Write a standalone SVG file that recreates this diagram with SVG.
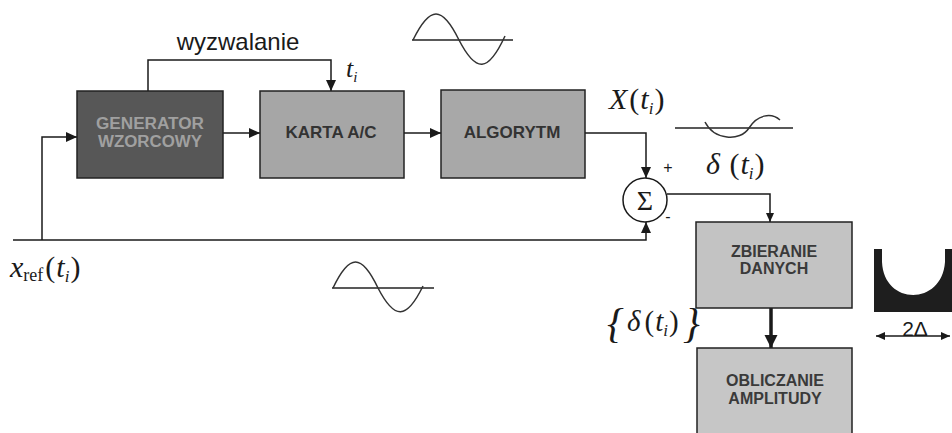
<svg xmlns="http://www.w3.org/2000/svg" width="952" height="433" viewBox="0 0 952 433">
<defs>
<marker id="ah" markerUnits="userSpaceOnUse" markerWidth="12" markerHeight="10" refX="11" refY="5" orient="auto"><path d="M0,0 L11,5 L0,10 z" fill="#1a1a1a"/></marker>
<marker id="ahs" markerUnits="userSpaceOnUse" markerWidth="10" markerHeight="10" refX="9" refY="4" orient="auto"><path d="M0,0 L9,4 L0,8 z" fill="#1a1a1a"/></marker>
<marker id="ahb" markerUnits="userSpaceOnUse" markerWidth="14" markerHeight="14" refX="13" refY="6.5" orient="auto"><path d="M0,0 L13,6.5 L0,13 z" fill="#1a1a1a"/></marker>
<marker id="ahs0" markerUnits="userSpaceOnUse" markerWidth="10" markerHeight="10" refX="0" refY="4" orient="auto"><path d="M9,0 L0,4 L9,8 z" fill="#1a1a1a"/></marker>
</defs>
<style>
.box{stroke:#222;stroke-width:1.5}
.lbl{font-family:"Liberation Sans",Arial,sans-serif;font-size:16px;font-weight:bold;text-anchor:middle;fill:#3a3a3a}
.math{font-family:"Liberation Serif","Times New Roman",serif;font-style:italic;fill:#1a1a1a}
.conn{fill:none;stroke:#1a1a1a;stroke-width:1.5}
.wave{fill:none;stroke:#333;stroke-width:1.5}
.axis{stroke:#222;stroke-width:1.3}
</style>
<rect width="952" height="433" fill="#ffffff"/>

<g id="connectors">
<path class="conn" d="M42,240 V137 H77" marker-end="url(#ah)"/>
<path class="conn" d="M223,133 H260" marker-end="url(#ah)"/>
<path class="conn" d="M404,133 H441" marker-end="url(#ah)"/>
<path class="conn" d="M148,91 V60 H331 V91" marker-end="url(#ah)"/>
<path class="conn" d="M585,133 H646 V178" marker-end="url(#ah)"/>
<path class="conn" d="M13,240 H646 V222" marker-end="url(#ah)"/>
<path class="conn" d="M667,194 H770 V222" marker-end="url(#ahs)"/>
<path class="conn" d="M771,308 V348" style="stroke-width:3.5" marker-end="url(#ahb)"/>
<text x="238" y="50" style="font-family:'Liberation Sans',Arial,sans-serif;font-size:24px;text-anchor:middle;fill:#1a1a1a">wyzwalanie</text>
</g>

<g id="generator">
<rect class="box" x="77" y="91" width="146" height="87" fill="#575757"/>
<text class="lbl" x="150" y="129" textLength="108" lengthAdjust="spacingAndGlyphs" style="fill:#a0a0a0">GENERATOR</text>
<text class="lbl" x="150" y="147" textLength="104" lengthAdjust="spacingAndGlyphs" style="fill:#a0a0a0">WZORCOWY</text>
</g>

<g id="karta">
<rect class="box" x="260" y="91" width="144" height="87" fill="#a6a6a6"/>
<text class="lbl" x="331" y="138" style="font-size:17px;fill:#333">KARTA A/C</text>
</g>

<g id="algorytm">
<rect class="box" x="441" y="90" width="144" height="88" fill="#a8a8a8"/>
<text class="lbl" x="512" y="138" style="font-size:17px;fill:#333">ALGORYTM</text>
</g>

<g id="sum">
<circle cx="645" cy="200" r="22" fill="#fff" stroke="#1a1a1a" stroke-width="1.5"/>
<text x="645" y="210" style="font-family:'Liberation Serif',serif;font-size:28px;text-anchor:middle;fill:#1a1a1a">Σ</text>
<text x="668" y="173" style="font-family:'Liberation Sans',sans-serif;font-size:16px;text-anchor:middle;fill:#1a1a1a">+</text>
<text x="668" y="222" style="font-family:'Liberation Sans',sans-serif;font-size:16px;text-anchor:middle;fill:#1a1a1a">-</text>
</g>

<g id="zbieranie">
<rect class="box" x="696" y="222" width="156" height="86" fill="#c3c3c3"/>
<text class="lbl" x="774" y="257">ZBIERANIE</text>
<text class="lbl" x="774" y="274">DANYCH</text>
</g>

<g id="obliczanie">
<rect class="box" x="697" y="348" width="155" height="100" fill="#c6c6c6"/>
<text class="lbl" x="775" y="386">OBLICZANIE</text>
<text class="lbl" x="775" y="404">AMPLITUDY</text>
</g>

<g id="labels">
<text class="math" x="346" y="77" font-size="26">t<tspan font-size="15" dy="5">i</tspan></text>
<text class="math" x="609" y="109" font-size="30">X<tspan font-style="normal" dx="2">(</tspan><tspan dx="1">t</tspan><tspan font-size="17" dy="5">i</tspan><tspan font-style="normal" dy="-5" dx="1">)</tspan></text>
<text class="math" x="706" y="174" font-size="30">δ <tspan font-style="normal" dx="2">(</tspan><tspan dx="1">t</tspan><tspan font-size="17" dy="5">i</tspan><tspan font-style="normal" dy="-5" dx="1">)</tspan></text>
<text class="math" x="10" y="277" font-size="30">x<tspan font-style="normal" font-size="18" dy="4">ref</tspan><tspan font-style="normal" dy="-4" dx="2">(</tspan><tspan dx="1">t</tspan><tspan font-size="17" dy="5">i</tspan><tspan font-style="normal" dy="-5" dx="1">)</tspan></text>
<text class="math" x="607" y="337" font-size="42" font-style="normal">{</text>
<text class="math" x="627" y="331" font-size="29">δ<tspan font-style="normal" dx="4">(</tspan><tspan dx="1">t</tspan><tspan font-size="17" dy="5">i</tspan><tspan font-style="normal" dy="-5" dx="1">)</tspan></text>
<text class="math" x="683" y="337" font-size="42" font-style="normal">}</text>
</g>

<g id="waves">
<line class="axis" x1="412" y1="40" x2="513" y2="40"/>
<path class="wave" d="M413,40 C430,5.3 442,5.3 459,40 C476,73 488,73 505,36"/>
<line class="axis" x1="332" y1="288" x2="434" y2="288"/>
<path class="wave" d="M333,288 C349.5,253.3 361.5,253.3 378,288 C394.5,320 406.5,320 423,286"/>
<line class="axis" x1="675" y1="128" x2="793" y2="128"/>
<path class="wave" d="M705,122 C714,140 740,142 749,128 C757,115 771,112 780,120"/>
</g>

<g id="histogram">
<path d="M874,249 H882 V262 C884,306 942,306 945,262 V249 H952 V312 H874 Z" fill="#1e1e1e"/>
<path class="conn" d="M876,336 H950" marker-start="url(#ahs0)" marker-end="url(#ahs)"/>
<text x="915" y="336" style="font-family:'Liberation Sans',sans-serif;font-size:21px;text-anchor:middle;fill:#1a1a1a">2Δ</text>
</g>
</svg>
